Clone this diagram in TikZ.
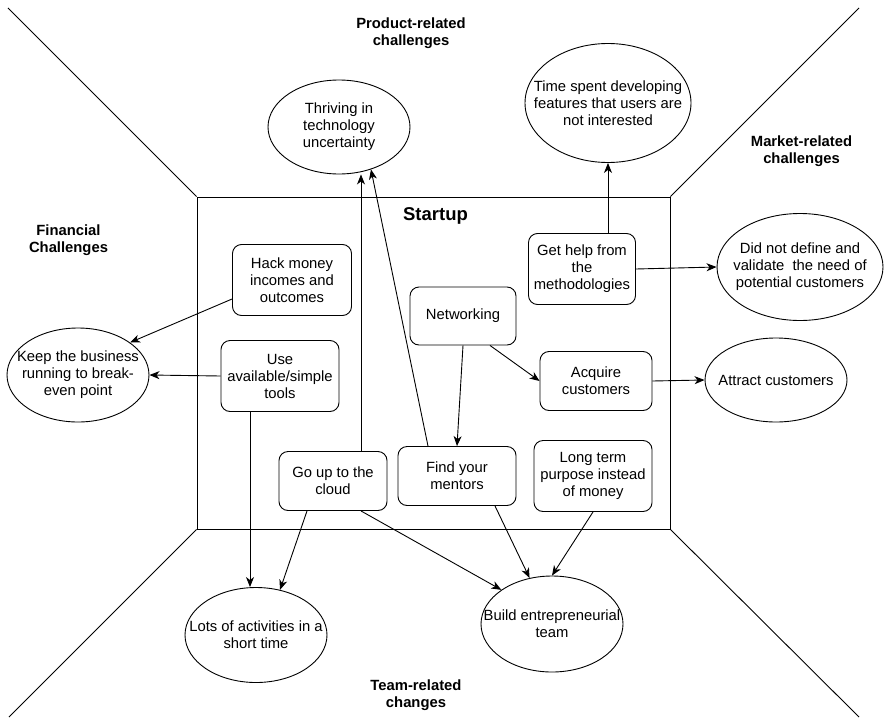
\documentclass[tikz,border=0pt]{standalone}
\usepackage{fontspec}
\setmainfont{Liberation Sans}
\usetikzlibrary{shapes.geometric,arrows.meta,calc}

\begin{document}
\begin{tikzpicture}[x=1pt,y=-1pt,
  txt/.style={font=\fontsize{14.8}{17}\selectfont, align=center, inner sep=0pt},
  box/.style={txt, draw, rounded corners=9pt, line width=0.9pt},
  oval/.style={draw, ellipse, line width=0.9pt, inner sep=0pt,
               label={[txt]center:#1}},
  zone/.style={font=\bfseries\fontsize{14.8}{17}\selectfont, align=center, inner sep=0pt},
  link/.style={-{Stealth[length=10pt,width=8pt,inset=3pt]}, line width=0.9pt},
  wall/.style={line width=0.9pt}]

\useasboundingbox (0,0) rectangle (885,717);

% the startup room and its four corner walls
\node[draw, wall, minimum width=473pt, minimum height=332pt, inner sep=0pt] (room) at (433.5,363) {};
\coordinate (tl) at (8,8);
\coordinate (tr) at (859,8);
\coordinate (bl) at (9,717);
\coordinate (br) at (859,717);
\draw[wall] (room.north west) -- (tl);
\draw[wall] (room.north east) -- (tr);
\draw[wall] (room.south west) -- (bl);
\draw[wall] (room.south east) -- (br);

% area headings
\node[zone] (prod) at (411,33) {Product-related\\challenges};
\node[zone] (fin) at (68.5,240) {Financial\\Challenges};
\node[zone] (mkt) at (801.5,151) {Market-related\\challenges};
\node[zone] (team) at (416,695) {Team-related\\changes};
\node[font=\bfseries\fontsize{18.5}{20}\selectfont, inner sep=0pt] (title) at (435.5,216) {Startup};

% challenges
\node[oval={Thriving in\\technology\\uncertainty}, minimum width=142pt, minimum height=94pt] (thr) at (339,127) {};
\node[oval={Time spent developing\\features that users are\\not interested}, minimum width=166pt, minimum height=119pt] (time) at (608,103) {};
\node[oval={Did not define and\\validate\ \ the need of\\potential customers}, minimum width=166pt, minimum height=107pt] (need) at (800,267) {};
\node[oval={Attract customers}, minimum width=142pt, minimum height=84pt] (attr) at (776,380) {};
\node[oval={Keep the business\\running to break-\\even point}, minimum width=142pt, minimum height=94pt] (keep) at (78,375) {};
\node[oval={Lots of activities in a\\short time}, minimum width=142pt, minimum height=95pt] (lots) at (256,635) {};
\node[oval={Build entrepreneurial\\team}, minimum width=142pt, minimum height=96pt] (build) at (552,624) {};

% startup practices
\node[box, minimum width=119pt, minimum height=71pt] (hack) at (292,280) {Hack money\\incomes and\\outcomes};
\node[box, minimum width=118pt, minimum height=71pt] (tools) at (280,376) {Use\\available/simple\\tools};
\node[box, minimum width=108pt, minimum height=59pt] (cloud) at (333,481) {Go up to the\\cloud};
\node[box, minimum width=118pt, minimum height=59pt] (ment) at (457,476) {Find your\\mentors};
\node[box, minimum width=106pt, minimum height=58pt] (net) at (463,316) {Networking};
\node[box, minimum width=112pt, minimum height=59pt] (acq) at (596,381) {Acquire\\customers};
\node[box, minimum width=118pt, minimum height=71pt] (long) at (593,476) {Long term\\purpose instead\\of money};
\node[box, minimum width=107pt, minimum height=71pt] (help) at (582,269) {Get help from\\the\\methodologies};

% links
\draw[link] ($(hack.west)+(0,19)$) -- (keep.32);
\draw[link] (tools.west) -- (keep.east);
\coordinate (t1) at ($(tools.south)+(-30,0)$);
\draw[link] (t1) -- (t1 |- lots.north);
\draw[link] ($(cloud.south)+(-26,0)$) -- (lots.62);
\coordinate (c1) at ($(cloud.north)+(28,0)$);
\draw[link] (c1) -- (c1 |- thr.south);
\draw[link] ($(ment.north)+(-29,0)$) -- (thr.-53);
\draw[link] (net.south) -- (ment.north);
\draw[link] ($(net.south)+(27,0)$) -- (acq.west);
\draw[link] (acq.east) -- (attr.west);
\draw[link] ($(help.north)+(26,0)$) -- (time.south);
\draw[link] (help.east) -- (need.west);
\draw[link] ($(cloud.south)+(28,0)$) -- (build.146);
\draw[link] ($(ment.south)+(38,0)$) -- (build.116);
\draw[link] (long.south) -- (build.north);

\end{tikzpicture}
\end{document}
